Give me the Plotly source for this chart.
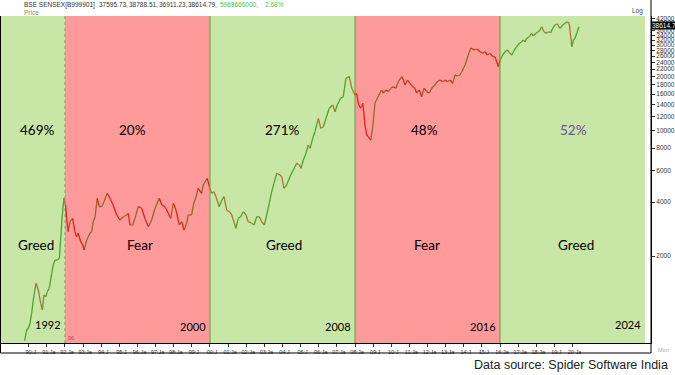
import math
import plotly.graph_objects as go

# ---------------- data ----------------
years = [
    1989.77, 1989.89, 1989.98, 1990.07, 1990.16, 1990.25, 1990.40, 1990.53, 1990.66, 1990.75,
    1990.84, 1990.95, 1991.02, 1991.13, 1991.27, 1991.35, 1991.45, 1991.58, 1991.69, 1991.76,
    1991.83, 1991.94, 1992.03, 1992.09, 1992.18, 1992.28, 1992.42, 1992.55, 1992.65, 1992.73,
    1992.87, 1992.98, 1993.06, 1993.20, 1993.38, 1993.47, 1993.56, 1993.66, 1993.78, 1993.89,
    1994.02, 1994.15, 1994.33, 1994.48, 1994.66, 1994.85, 1995.03, 1995.22, 1995.40, 1995.49,
    1995.59, 1995.74, 1995.86, 1996.04, 1996.23, 1996.41, 1996.60, 1996.78, 1996.97, 1997.20,
    1997.34, 1997.52, 1997.70, 1997.83, 1997.98, 1998.12, 1998.31, 1998.44, 1998.57, 1998.71,
    1998.80, 1998.99, 1999.08, 1999.23, 1999.35, 1999.54, 1999.63, 1999.75, 1999.85, 1999.96,
    2000.09, 2000.22, 2000.33, 2000.51, 2000.65, 2000.77, 2000.92, 2001.07, 2001.20, 2001.29,
    2001.43, 2001.56, 2001.69, 2001.84, 2001.99, 2002.11, 2002.30, 2002.43, 2002.58, 2002.72,
    2002.85, 2003.00, 2003.13, 2003.27, 2003.40, 2003.53, 2003.68, 2003.86, 2003.96, 2004.08,
    2004.23, 2004.41, 2004.60, 2004.78, 2004.93, 2005.02, 2005.15, 2005.30, 2005.42, 2005.52,
    2005.67, 2005.79, 2005.98, 2006.11, 2006.25, 2006.40, 2006.58, 2006.77, 2006.90, 2007.02,
    2007.21, 2007.35, 2007.50, 2007.69, 2007.82, 2008.00, 2008.09, 2008.18, 2008.31, 2008.43,
    2008.55, 2008.65, 2008.73, 2008.87, 2008.98, 2009.10, 2009.23, 2009.38, 2009.47, 2009.56,
    2009.71, 2009.84, 2009.97, 2010.11, 2010.26, 2010.39, 2010.58, 2010.67, 2010.76, 2010.89,
    2011.03, 2011.18, 2011.31, 2011.40, 2011.55, 2011.68, 2011.81, 2011.96, 2012.10, 2012.23,
    2012.41, 2012.54, 2012.69, 2012.84, 2012.97, 2013.09, 2013.24, 2013.39, 2013.52, 2013.64,
    2013.79, 2013.89, 2014.07, 2014.16, 2014.29, 2014.40, 2014.57, 2014.73, 2014.90, 2015.05,
    2015.17, 2015.30, 2015.45, 2015.60, 2015.72, 2015.82, 2015.91, 2016.00, 2016.15, 2016.28,
    2016.40, 2016.55, 2016.65, 2016.77, 2016.92, 2017.07, 2017.20, 2017.29, 2017.38, 2017.47,
    2017.62, 2017.75, 2017.84, 2017.99, 2018.11, 2018.21, 2018.30, 2018.43, 2018.54, 2018.67,
    2018.80, 2018.91, 2019.03, 2019.16, 2019.31, 2019.46, 2019.59, 2019.71, 2019.82, 2019.90,
    2019.96, 2020.05, 2020.14, 2020.23, 2020.36,
]
closes = [
    672, 774, 791, 843, 958, 1137, 1408, 1293, 1090, 1000,
    1212, 1186, 1265, 1321, 1601, 1782, 1899, 1899, 1942, 2456,
    3175, 4210, 3849, 3244, 2732, 3106, 3244, 2732, 2562, 2676,
    2403, 2304, 2160, 2456, 2676, 2732, 3106, 3311, 4195, 3766,
    3766, 4015, 4472, 4195, 3849, 3387, 3175, 3311, 3387, 3460,
    2978, 2978, 3244, 3766, 3690, 3244, 2913, 3175, 3690, 4195,
    3849, 3766, 3460, 3244, 3934, 3610, 2978, 3106, 2791, 3044,
    3387, 3387, 3849, 4280, 4769, 4472, 4976, 5236, 5423, 4867,
    4472, 4564, 4280, 3766, 4104, 4280, 3610, 3531, 3387, 3175,
    2853, 3244, 3311, 3531, 3387, 3106, 3044, 2978, 3311, 3311,
    3106, 2978, 3387, 3934, 4564, 5084, 5780, 5657, 5536, 4769,
    4976, 5536, 6032, 6575, 6432, 6164, 6859, 7475, 8311, 7970,
    9065, 9865, 11710, 10300, 10515, 11710, 13320, 13890, 12750, 13890,
    15140, 15450, 19560, 19990, 17220, 15800, 16140, 14200, 13320, 14200,
    10750, 9450, 9250, 8860, 10515, 14200, 15140, 16200, 16850, 16200,
    16850, 16480, 17220, 17570, 17220, 18740, 19990, 19150, 17950, 19150,
    18350, 17570, 17220, 16200, 16850, 15450, 17220, 16480, 16200, 17220,
    17950, 18740, 19150, 18740, 19150, 18740, 19150, 18350, 20420, 20160,
    20420, 21300, 23220, 24750, 27090, 28880, 28140, 28510, 27540, 26980,
    27540, 26400, 26980, 25830, 25830, 24220, 22720, 24750, 26400, 27540,
    28140, 26980, 26400, 27890, 29360, 30690, 31310, 32000, 31310, 32700,
    33380, 34880, 33690, 34880, 35590, 36380, 37940, 35590, 34880, 35590,
    35140, 37180, 38790, 39300, 37180, 38790, 39650, 40480, 39650, 33380,
    29360, 32000, 32700, 34880, 37940,
]

region_edges = [1992, 2000, 2008, 2016, 2024]
moods = ["Greed", "Fear", "Greed", "Fear", "Greed"]
returns = ["469%", "20%", "271%", "48%", "52%"]
edge_labels = ["1992", "2000", "2008", "2016", "2024"]

y_ticks = [2000, 4000, 6000, 8000, 10000, 12000, 14000, 16000, 18000, 20000, 22000,
           24000, 26000, 28000, 30000, 32000, 34000, 36000, 38000, 40000, 42000]
x_tick_years = list(range(1990, 2021))
x_tick_text = ["90:J", "91:Ja", "92:Ja", "93:Ja", "94:J", "95:J", "96:Ja", "97:Ja", "98:Ja", "99:J",
               "00:J", "01:Ja", "02:Ja", "03:Ja", "04:J", "05:J", "06:Ja", "07:Ja", "08:Ja", "09:J",
               "10:J", "11:Ja", "12:Ja", "13:Ja", "14:J", "15:J", "16:Ja", "17:Ja", "18:Ja", "19:J",
               "20:Ja"]
header_tokens = ["BSE SENSEX[B999901]", "37595.73,", "38788.51,", "36911.23,", "38614.79,",
                 "5969666000,", "2.68%"]
last_close = 38614.79

# ---------------- layout geometry / styles ----------------
W, H = 675, 375
ML, MR, MT, MB = 1, 24, 16, 32
PW, PH = W - ML - MR, H - MT - MB
X_RANGE = [1988.47, 2024.33]
Y_RANGE = [2.816, 4.639]


def px_x(p):
    return (p - ML) / PW


def px_y(p):
    return (H - MB - p) / PH


GREEN_BG = "#c8e6a6"
RED_BG = "#ff9a9a"
colors = {
    ("Greed", True): "#52a22e",
    ("Greed", False): "#a97638",
    ("Fear", True): "#8d6a2c",
    ("Fear", False): "#e0221e",
}

fig = go.Figure()

# ---------------- price line coloured by direction / regime ----------------
def mood_at(t):
    for e, m in zip(region_edges, moods):
        if t < e:
            return m
    return moods[-1]


segs = {k: ([], []) for k in colors}
for i in range(len(years) - 1):
    m = mood_at((years[i] + years[i + 1]) / 2)
    up = closes[i + 1] >= closes[i]
    xs, ys = segs[(m, up)]
    xs += [years[i], years[i + 1], None]
    ys += [closes[i], closes[i + 1], None]

for k, (xs, ys) in segs.items():
    fig.add_trace(go.Scatter(x=xs, y=ys, mode="lines",
                             line=dict(color=colors[k], width=1.3),
                             hoverinfo="skip", showlegend=False))

# ---------------- regime background ----------------
shapes = []
starts = [X_RANGE[0]] + region_edges[:-1]
for x0, x1, m in zip(starts, region_edges, moods):
    shapes.append(dict(type="rect", xref="x", yref="paper", x0=x0, x1=x1, y0=0, y1=1,
                       fillcolor=GREEN_BG if m == "Greed" else RED_BG,
                       line=dict(width=0), layer="below"))
for j, e in enumerate(region_edges[:-1]):
    if j == 0:
        ln = dict(color="#7f9a78", width=1, dash="dot")
    else:
        ln = dict(color="#5e9e3e", width=1)
    shapes.append(dict(type="line", xref="x", yref="paper", x0=e, x1=e, y0=0, y1=1,
                       line=ln, layer="below"))

# frame lines
shapes.append(dict(type="line", xref="paper", yref="paper", x0=1, x1=1,
                   y0=px_y(353), y1=px_y(0), line=dict(color="black", width=1)))
shapes.append(dict(type="line", xref="paper", yref="paper", x0=px_x(0.5), x1=1,
                   y0=px_y(353), y1=px_y(353), line=dict(color="black", width=1)))
shapes.append(dict(type="line", xref="paper", yref="paper", x0=px_x(0.5), x1=px_x(0.5),
                   y0=px_y(353), y1=px_y(16), line=dict(color="black", width=1)))

# ---------------- annotations ----------------
ann = []
ret_x = [1990.45, 1995.75, 2003.97, 2011.81, 2020.08]
mood_x = [1990.40, 1996.14, 2004.08, 2011.97, 2020.19]
for r, x in zip(returns, ret_x):
    ann.append(dict(x=x, y=px_y(130), xref="x", yref="paper", text=r, showarrow=False,
                    xanchor="center", yanchor="middle",
                    font=dict(family="Lato", size=13.5,
                              color="#6e4f9e" if r == returns[-1] else "black")))
for m, x in zip(moods, mood_x):
    ann.append(dict(x=x, y=px_y(245), xref="x", yref="paper", text=m, showarrow=False,
                    xanchor="center", yanchor="middle",
                    font=dict(family="Lato", size=13.5, color="black")))
for j, (e, lab) in enumerate(zip(region_edges, edge_labels)):
    yy = 324 if j in (0, len(region_edges) - 1) else 326
    ann.append(dict(x=e - 0.1, y=px_y(yy), xref="x", yref="paper", text=lab,
                    showarrow=False, xanchor="right", yanchor="middle",
                    font=dict(family="Lato", size=11, color="black")))
ann.append(dict(x=region_edges[0] + 0.05, y=px_y(338), xref="x", yref="paper", text="96",
                showarrow=False, xanchor="left", yanchor="middle",
                font=dict(family="Liberation Sans", size=5.5, color="#c84040")))

header_px = [22, 96.7, 126.7, 156.7, 185.7, 218.3, 263.3]
for j, (tok, p) in enumerate(zip(header_tokens, header_px)):
    ann.append(dict(x=px_x(p), y=px_y(5), xref="paper", yref="paper", text=tok,
                    showarrow=False, xanchor="left", yanchor="middle",
                    font=dict(family="Liberation Sans", size=6.5,
                              color="#44cc44" if j >= 5 else "#333333")))
ann.append(dict(x=px_x(22), y=px_y(12.5), xref="paper", yref="paper", text="Price",
                showarrow=False, xanchor="left", yanchor="middle",
                font=dict(family="Liberation Sans", size=6.5, color="#6f9a60")))
ann.append(dict(x=px_x(645), y=px_y(11), xref="paper", yref="paper", text="Log",
                showarrow=False, xanchor="right", yanchor="middle",
                font=dict(family="Liberation Sans", size=6.5, color="#444444")))
ann.append(dict(x=px_x(663), y=px_y(350), xref="paper", yref="paper", text="Mon",
                showarrow=False, xanchor="center", yanchor="middle",
                font=dict(family="Liberation Sans", size=5.5, color="#aaaaaa")))
ann.append(dict(x=1.0, y=math.log10(last_close), xref="paper", yref="y",
                text=f"{last_close:.2f}", showarrow=False, xanchor="left", yanchor="middle",
                bgcolor="black", borderpad=0,
                font=dict(family="Liberation Sans", size=6.5, color="white")))
ann.append(dict(x=px_x(670), y=px_y(365), xref="paper", yref="paper",
                text="Data source: Spider Software India", showarrow=False,
                xanchor="right", yanchor="middle",
                font=dict(family="Liberation Sans", size=12.5, color="#222222")))

fig.update_layout(
    width=W, height=H, autosize=False,
    margin=dict(l=ML, r=MR, t=MT, b=MB, pad=0),
    paper_bgcolor="white", plot_bgcolor="white",
    showlegend=False, hovermode=False,
    shapes=shapes, annotations=ann,
    xaxis=dict(range=X_RANGE, tickvals=x_tick_years, ticktext=x_tick_text,
               ticks="outside", ticklen=3, tickcolor="#333", showgrid=False,
               zeroline=False, showline=True, linecolor="black", linewidth=1,
               tickfont=dict(family="Liberation Sans", size=5.5, color="#333"),
               ticklabelshift=2, fixedrange=True),
    yaxis=dict(type="log", range=Y_RANGE, side="right", tickvals=y_ticks,
               ticktext=[str(v) for v in y_ticks], ticks="outside", ticklen=3,
               tickcolor="#333", showgrid=False, zeroline=False, showline=True,
               linecolor="black", linewidth=1,
               tickfont=dict(family="Liberation Sans", size=6.5, color="#333"),
               fixedrange=True),
)

fig.write_html("out.html", config={"displayModeBar": False},
               post_script="document.body.style.margin='0';document.body.style.overflow='hidden';")
